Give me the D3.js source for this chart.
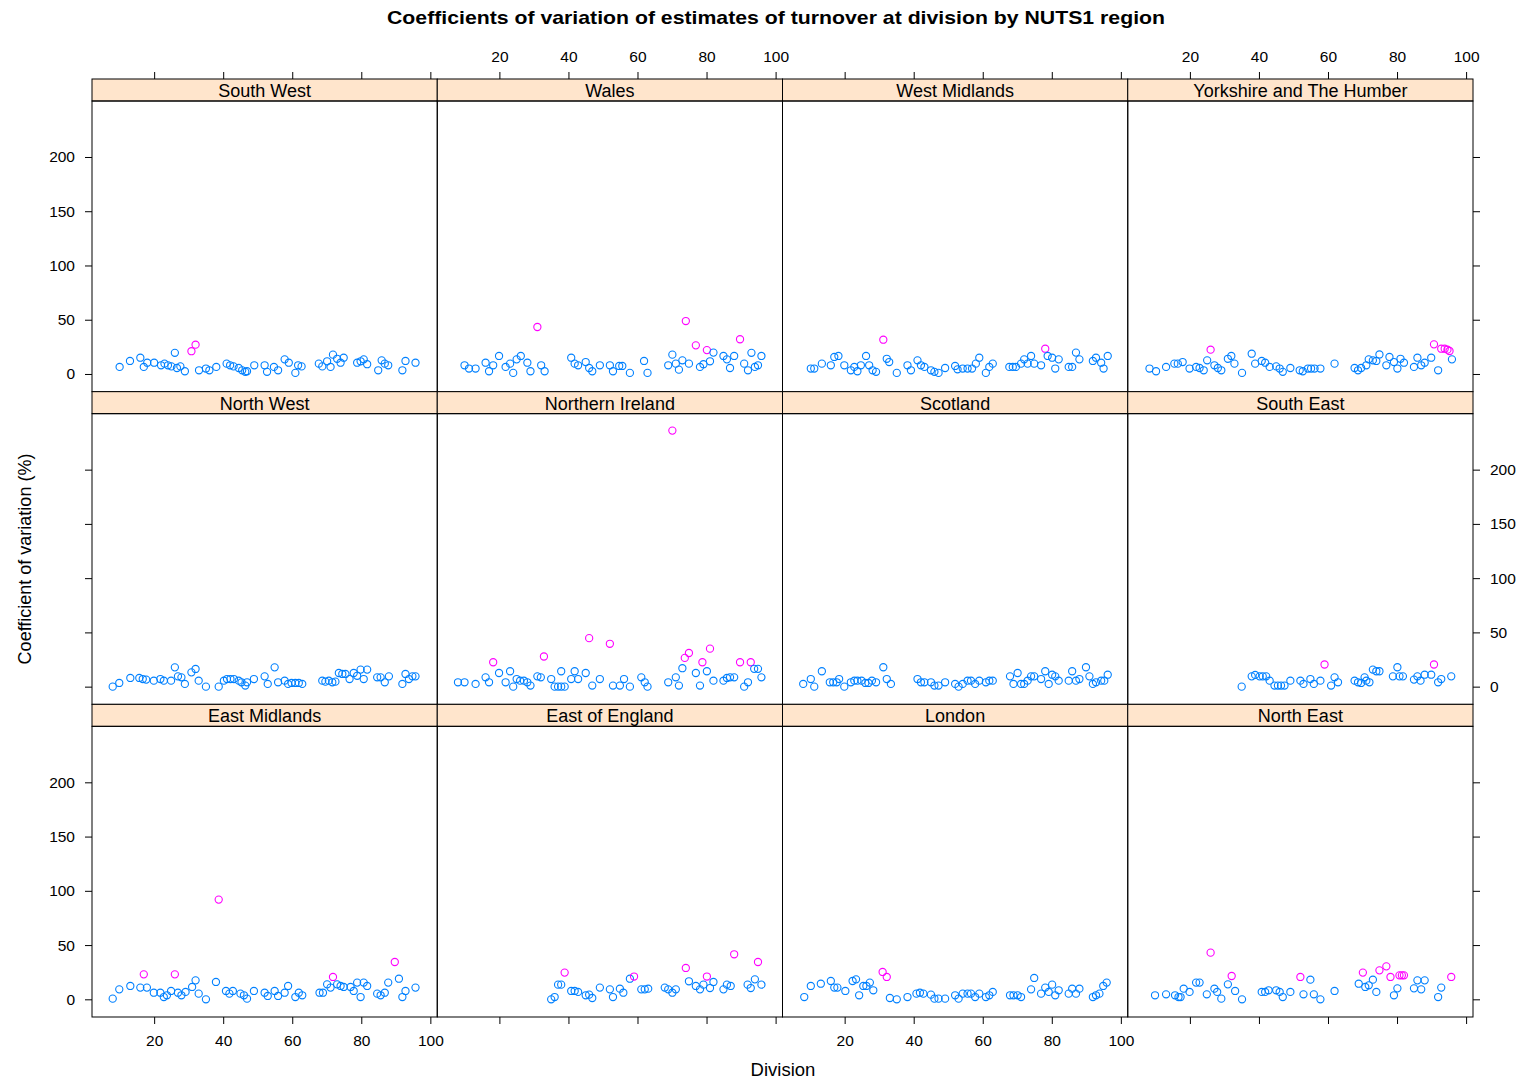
<!DOCTYPE html>
<html>
<head>
<meta charset="utf-8">
<script src="https://cdn.jsdelivr.net/npm/d3@7"></script>
<style>
  body { margin: 0; background: #fff; }
  text { font-family: "Liberation Sans", Arial, Helvetica, sans-serif; fill: #000; }
</style>
</head>
<body>
<svg id="chart" width="1523" height="1080"></svg>
<script>
// Panel order, left to right, top to bottom
const regions = [
  "South West", "Wales", "West Midlands", "Yorkshire and The Humber",
  "North West", "Northern Ireland", "Scotland", "South East",
  "East Midlands", "East of England", "London", "North East"
];

const xTicks = [20, 40, 60, 80, 100];
const yTicks = [0, 50, 100, 150, 200];
const highCvThreshold = 20;   // CVs above this are drawn in magenta

// [division, coefficient of variation %]
const southWest = [[10,6.5],[13,12],[16,15],[17,6.5],[18,10.4],[20,10.4],[22,8],[23,9.5],[24,8],[25,7],[26,19.5],[26.6,5.5],[27.6,7],[28.9,2.5],[30.8,21],[32,27],[33,3.4],[35,5],[36,3.4],[38,6.5],[41,9.5],[42,8],[43,7],[44.5,5.5],[45.5,3.4],[46.4,2],[46.9,2.5],[49,8],[52,8],[52.7,2],[54.7,6.5],[55.9,3.4],[57.8,13.5],[59,10.4],[60.9,1],[61.7,8],[62.7,7],[67.7,9.5],[68.7,7],[70.1,11.7],[71.1,6.5],[71.8,17.8],[73,14],[74,10.4],[74.9,15],[78.8,10.4],[79.8,11.7],[80.7,13.5],[81.7,9],[84.9,3.4],[85.9,12.6],[86.8,9.5],[87.8,8],[91.9,3.4],[92.8,12],[95.7,10.4]];
const wales = [[9.9,8],[11.2,5],[13.1,5],[16,10.4],[17,2.5],[18.2,8],[19.9,16.6],[21.8,6.5],[23.1,9.5],[24,1],[25,13.5],[26.2,16.6],[28.1,10.4],[29,2.5],[31,43.3],[32.1,8],[33.1,2.5],[40.8,15],[41.8,9.5],[42.8,8],[45,11],[46,5.5],[46.9,2.5],[49.1,8],[52,8],[52.9,2.5],[54.7,7.4],[55.6,7.4],[57.8,1],[61.9,12],[62.9,1],[68.9,8],[70.1,17.8],[71.1,9.5],[72,4],[73,12.6],[74,48.8],[74.9,9.5],[76.9,26.4],[78.1,6.5],[79.1,9],[80.1,22],[81,11.7],[82,19.7],[84.9,16.6],[85.9,13.5],[86.8,5.5],[88,16.6],[89.7,32],[90.9,9.5],[92,3.4],[93,19.5],[94,6.5],[94.9,8],[95.9,16.6]];
const westMidlands = [[10.2,5],[11.2,5],[13.4,9.5],[16,8],[17,15.7],[18.2,16.6],[19.9,8],[21.8,3.4],[22.8,6.5],[23.7,2.5],[24.7,8],[26.2,16.6],[27.1,8],[28.1,3.4],[29.1,2],[31.2,31.6],[32.2,14],[32.9,11],[35.1,1],[38.2,8],[39.2,3.4],[41.1,12.6],[42.1,8],[43.1,6.5],[45,3.4],[46,2],[47.2,1],[49.1,5.5],[52,7.4],[52.7,4.3],[54.2,5],[55.6,5],[56.9,5],[58,9.5],[59,15],[60.9,1],[61.9,6.5],[62.9,9.5],[67.7,6.5],[68.7,6.5],[69.6,6.5],[71.1,9.5],[72,13.5],[73,9.5],[74,16.6],[74.9,9.5],[76.9,8],[78.1,23.3],[78.8,16.6],[80.1,15],[81,5],[82,13.5],[84.9,6.5],[85.9,6.5],[87,19.7],[88,13.5],[91.9,12],[92.8,15],[94.3,10.4],[95,5],[96.2,16.6]];
const yorkshire = [[8.3,5],[10.2,2.5],[13.1,6.5],[15.5,9.5],[16.5,9.5],[17.9,11],[19.9,5],[21.8,6.5],[22.8,5.5],[24,3.4],[25,12.6],[26,22.4],[27.1,8],[28.1,5.5],[29.1,3.4],[31,14],[32,16.6],[32.9,9.5],[35.1,1],[37.9,18.7],[38.9,9.5],[40.8,12],[41.8,10.4],[43.1,6.5],[45,7],[46,5],[46.9,2],[49.1,5.5],[51.8,3.4],[52.7,2.5],[54.2,5],[55.1,5],[56.1,5],[57.8,5],[61.9,9.5],[67.7,5.5],[68.7,3.4],[69.6,5.5],[71.1,8],[71.8,13.5],[73,12.6],[74,12],[74.9,18],[76.9,8],[77.8,15.7],[79.1,11],[80.1,5],[81,14],[82,10.4],[84.9,6.5],[85.9,15],[87,8],[88,10.4],[89.9,15],[90.7,27.3],[91.9,3.4],[92.8,23.3],[93.8,23.3],[94.6,22.4],[95.2,21.2],[95.9,13.5]];
const northWest = [[8,0],[9.9,3.4],[13.1,8],[15.7,8],[16.7,7],[17.7,6.5],[19.9,5.5],[21.8,7],[22.8,5.5],[24.9,5.5],[26,17.8],[26.9,9.5],[27.9,8.6],[28.9,2.5],[30.8,13.2],[32,16.3],[32.9,5.5],[35,0],[38.7,0],[40.2,5.5],[41.1,7],[42.1,7],[43.1,7],[44.5,5.5],[45.3,4],[46.4,1],[46.9,4],[48.9,7],[52,9.5],[52.9,2.5],[54.9,17.8],[55.9,4],[57.8,5.5],[58.8,2.5],[59.8,3.4],[60.9,3.4],[61.9,3.4],[62.9,2.5],[68.7,5.5],[69.6,4.6],[70.6,5.5],[71.6,4],[72.5,4.6],[73.5,12.6],[74.5,11.7],[75.4,11.7],[76.6,7],[77.8,12.6],[78.8,10],[79.8,15.7],[80.7,7],[81.7,15.7],[84.6,8.6],[85.6,8.6],[86.8,4],[88,9.5],[91.9,2.5],[92.8,11.7],[93.8,7],[94.8,9.5],[95.7,9.5]];
const northernIreland = [[8,4],[9.9,4],[13.1,2.5],[16,8.6],[17,4],[18.2,22.5],[19.9,12.6],[21.8,4],[23.1,14.2],[24,0],[25,7],[26,5.5],[27.1,5.5],[28.1,4],[29,1],[31,9.5],[32,8.6],[32.9,27.8],[35,7],[36,0],[37,0],[37.9,0],[38.9,0],[37.9,14.2],[40.8,7],[41.8,14.2],[42.8,7],[45,12.6],[46,44.7],[46.9,1],[49.1,7],[52,39.5],[52.9,1],[54.9,1],[56.1,7],[57.8,0],[61.1,8.6],[62.1,4],[62.9,0],[68.9,4],[70.1,236],[71.1,8.6],[72,1],[73,17],[73.7,26.5],[74.9,31],[76.9,12.6],[78.1,1],[78.8,22.5],[80.1,14.2],[81,35],[82,5.5],[84.9,5.5],[85.9,8],[86.8,8.6],[88,8.6],[89.7,22.5],[90.9,0],[92,4],[92.8,22.5],[93.8,16.4],[94.9,16.4],[95.9,8.6]];
const scotland = [[8,2.5],[10.2,7],[11.2,0],[13.4,14.2],[15.7,4],[16.7,4],[17.7,4],[18.4,7],[19.9,0],[21.8,4],[22.8,5.5],[23.7,5.5],[24.9,5.5],[26,3.4],[26.9,3.4],[27.9,5.5],[29.1,4],[31.2,17.9],[32.2,7],[33.4,2.5],[41.1,7],[42.1,4],[43.1,4],[45,4],[46,1],[47.2,1],[49.1,4],[52,2.5],[53,0],[54.2,2.5],[55.6,5.5],[56.6,5.5],[57.8,2.5],[59,5.5],[60.9,4],[61.9,5.5],[62.9,5.5],[67.9,9.5],[68.9,2.5],[70.1,12.6],[71.1,2.5],[72,2.5],[73,5.5],[74,9.5],[74.9,9.5],[76.9,7],[78.1,14.2],[79.1,2.5],[80.1,11],[81,9.5],[82,5.5],[84.9,5.5],[85.9,14.2],[87,5.5],[88,7],[89.9,17.9],[90.9,9.5],[91.9,2.5],[92.8,4],[94.3,5.5],[95.2,5.5],[96.2,11]];
const southEast = [[35,0],[37.9,9.5],[38.9,10.8],[40.2,9.5],[41.1,9.5],[42.1,9.5],[43.1,5.5],[44.5,1],[45.5,1],[46.4,1],[47.4,1],[49.1,5.5],[52,5.5],[52.9,2.5],[54.9,7],[55.9,2.5],[57.8,5.5],[59,20.4],[60.9,1],[61.9,8.6],[62.9,4],[67.7,5.5],[68.7,4],[69.6,3.4],[70.6,8.6],[71.1,5.5],[72,4],[73,15.7],[74,14.2],[74.9,14.2],[78.8,9.5],[80.1,17.9],[80.7,9.5],[81.7,9.5],[84.9,6.5],[85.9,9.5],[86.8,5.5],[88,11],[89.9,11],[90.7,20.4],[91.9,4],[92.8,7],[95.7,9.5]];
const eastMidlands = [[8,0.6],[9.9,9.2],[13.1,12.3],[16,10.8],[17,23],[17.9,10.8],[19.9,6.1],[21.8,6.1],[22.8,2.1],[23.7,3.7],[24.9,7.7],[26,23],[26.9,6.1],[27.9,3.7],[29.1,6.8],[31,11.4],[32,17.5],[32.9,5.2],[35,0],[37.9,16],[38.7,91.9],[40.8,7.7],[41.8,5.2],[42.8,7.7],[45,5.2],[46,3.7],[46.9,0.6],[48.9,7.7],[52,6.1],[52.9,3.1],[54.9,7.7],[55.9,3.1],[57.8,6.1],[58.8,12.3],[60.9,2.1],[61.9,6.1],[62.9,3.7],[67.9,6.1],[68.9,6.1],[70.1,13.8],[71.1,10.8],[71.8,20.6],[73,13.8],[74,12.3],[74.9,11.4],[76.9,11.4],[77.8,7.7],[78.8,15.4],[79.8,2.1],[80.7,15.4],[81.7,12.3],[84.6,5.2],[85.6,3.7],[86.8,6.1],[87.8,15.4],[89.7,34.4],[90.9,19],[91.9,2.1],[92.8,7.7],[95.7,10.8]];
const eastOfEngland = [[35,0],[36,2.1],[37,13.5],[37.9,13.5],[38.9,24.6],[40.8,7.7],[41.8,7.7],[42.8,6.8],[45,3.7],[46,4.3],[46.9,1.2],[49.1,10.8],[52,9.2],[52.9,2.1],[54.9,9.8],[55.9,6.1],[57.8,19],[59,21],[61.1,9.2],[62.1,9.2],[63.1,9.8],[67.9,10.8],[68.9,9.2],[70.1,6.1],[71.1,9.2],[74,28.9],[74.9,16.6],[76.9,12.3],[78.1,9.2],[79.1,13.5],[80.1,21],[81,10.4],[82,16],[84.9,9.2],[85.9,13.5],[87,12.3],[88,41.5],[91.9,13.5],[92.8,10.4],[94,18.4],[94.9,34.4],[95.9,13.5]];
const london = [[8.3,2.1],[10.2,12.3],[13.1,14.4],[16,16.9],[17,10.8],[17.9,10.8],[20.2,7.7],[22.3,16.9],[23.3,18.4],[24.2,3.7],[25.4,12.3],[26.3,12.3],[27.3,15.4],[28.3,8.3],[31,25.2],[32.2,20.6],[33.1,1.2],[35.1,0],[38.2,2.1],[40.8,5.2],[41.8,6.1],[42.8,5.2],[45,4.3],[46,0.6],[47.2,0.6],[49.1,0.6],[52,3.7],[53,0.6],[54.2,5.2],[55.6,5.2],[56.6,5.2],[57.8,2.1],[59,5.2],[60.9,2.1],[61.9,3.7],[62.9,6.8],[67.9,3.7],[68.9,3.7],[70.1,3.7],[71.1,2.1],[74,9.2],[74.9,19.7],[76.9,5.2],[78.1,10.8],[79.1,6.8],[80.1,13.5],[81,3.7],[82,8.3],[84.9,5.2],[85.9,9.8],[87,5.2],[88,9.8],[91.9,2.1],[92.8,3.7],[93.8,5.2],[94.9,12.3],[95.9,15.4]];
const northEast = [[9.9,3.7],[13.1,4.6],[15.7,3.7],[16.7,2.1],[17.3,2.1],[18.2,9.8],[19.9,6.8],[21.8,15.4],[22.8,15.4],[24.9,4.6],[26,43],[27.1,9.8],[27.9,6.8],[29.1,0.6],[31,13.8],[32.1,21.5],[33.1,7.7],[35.1,0],[40.8,6.8],[41.8,6.8],[42.8,8.3],[45,8.3],[46,6.8],[46.9,2.1],[49.1,6.8],[52,20.6],[52.9,4.6],[54.9,18.1],[55.9,4.6],[57.8,0],[61.9,7.7],[68.9,14.4],[70.1,24.6],[70.8,11.4],[71.8,12.9],[73,18.1],[74,6.8],[74.9,26.7],[76.9,30.4],[78.1,20.6],[79.1,3.7],[80.1,10.1],[80.7,22.1],[81.4,22.1],[82,22.1],[84.9,10.1],[85.9,17.5],[87,9.2],[88,17.5],[91.9,2.1],[92.8,10.8],[95.7,20.6]];

const regionData = {
  "South West": southWest, "Wales": wales, "West Midlands": westMidlands,
  "Yorkshire and The Humber": yorkshire, "North West": northWest,
  "Northern Ireland": northernIreland, "Scotland": scotland, "South East": southEast,
  "East Midlands": eastMidlands, "East of England": eastOfEngland,
  "London": london, "North East": northEast
};

// ---- layout ----
const svg = d3.select("#chart");
const plotLeft = 92, plotRight = 1473, plotTop = 79, plotBottom = 1017;
const nCols = 4, nRows = 3, stripH = 22;
const colW = (plotRight - plotLeft) / nCols;
const rowH = (plotBottom - plotTop) / nRows;
const panelH = rowH - stripH;

const x = d3.scaleLinear().domain([2, 102]).range([0, colW]);
const y = d3.scaleLinear().domain([-16.3, 251.6]).range([panelH, 0]);

const blue = "#0080ff", magenta = "#ff00ff";
const tickFont = 15.5;

// title and axis titles
svg.append("text")
  .attr("x", 776).attr("y", 24)
  .attr("text-anchor", "middle")
  .style("font-weight", "bold").style("font-size", "19px")
  .attr("textLength", 778).attr("lengthAdjust", "spacingAndGlyphs")
  .text("Coefficients of variation of estimates of turnover at division by NUTS1 region");

svg.append("text")
  .attr("transform", "translate(31,559) rotate(-90)")
  .attr("text-anchor", "middle")
  .style("font-size", "18px")
  .text("Coefficient of variation (%)");

svg.append("text")
  .attr("x", 783).attr("y", 1076)
  .attr("text-anchor", "middle")
  .style("font-size", "18.5px")
  .text("Division");

function styleAxis(g, showLabels) {
  g.select(".domain").remove();
  g.selectAll(".tick line").attr("stroke", "#000").attr("stroke-width", 1);
  g.selectAll(".tick text")
    .style("font-size", tickFont + "px")
    .style("font-family", '"Liberation Sans", Arial, sans-serif')
    .attr("fill", "#000")
    .style("display", showLabels ? null : "none");
}

regions.forEach((name, i) => {
  const col = i % nCols, row = Math.floor(i / nCols);
  const left = plotLeft + col * colW;
  const top = plotTop + row * rowH;
  const g = svg.append("g").attr("transform", `translate(${left},${top})`);

  // strip
  g.append("rect")
    .attr("x", 0).attr("y", 0).attr("width", colW).attr("height", stripH)
    .attr("fill", "#ffe5cc").attr("stroke", "#000").attr("stroke-width", 1);
  g.append("text")
    .attr("x", colW / 2).attr("y", stripH / 2 + 1)
    .attr("text-anchor", "middle").attr("dominant-baseline", "central")
    .style("font-size", "18px")
    .text(name);

  // panel
  const p = g.append("g").attr("transform", `translate(0,${stripH})`);
  p.append("rect")
    .attr("x", 0).attr("y", 0).attr("width", colW).attr("height", panelH)
    .attr("fill", "none").attr("stroke", "#000").attr("stroke-width", 1);

  p.selectAll("circle")
    .data(regionData[name])
    .join("circle")
    .attr("cx", d => x(d[0]))
    .attr("cy", d => y(d[1]))
    .attr("r", 3.6)
    .attr("fill", "none")
    .attr("stroke", d => d[1] > highCvThreshold ? magenta : blue)
    .attr("stroke-width", 1.1);

  // alternating axes
  if (row === 0) {
    g.append("g")
      .call(d3.axisTop(x).tickValues(xTicks).tickSize(7).tickSizeOuter(0).tickPadding(10))
      .call(ax => styleAxis(ax, col % 2 === 1));
  }
  if (row === nRows - 1) {
    p.append("g").attr("transform", `translate(0,${panelH})`)
      .call(d3.axisBottom(x).tickValues(xTicks).tickSize(7).tickSizeOuter(0).tickPadding(11))
      .call(ax => styleAxis(ax, col % 2 === 0));
  }
  if (col === 0) {
    p.append("g")
      .call(d3.axisLeft(y).tickValues(yTicks).tickSize(7).tickSizeOuter(0).tickPadding(10))
      .call(ax => styleAxis(ax, row % 2 === 0));
  }
  if (col === nCols - 1) {
    p.append("g").attr("transform", `translate(${colW},0)`)
      .call(d3.axisRight(y).tickValues(yTicks).tickSize(7).tickSizeOuter(0).tickPadding(10))
      .call(ax => styleAxis(ax, row % 2 === 1));
  }
});
</script>
</body>
</html>
